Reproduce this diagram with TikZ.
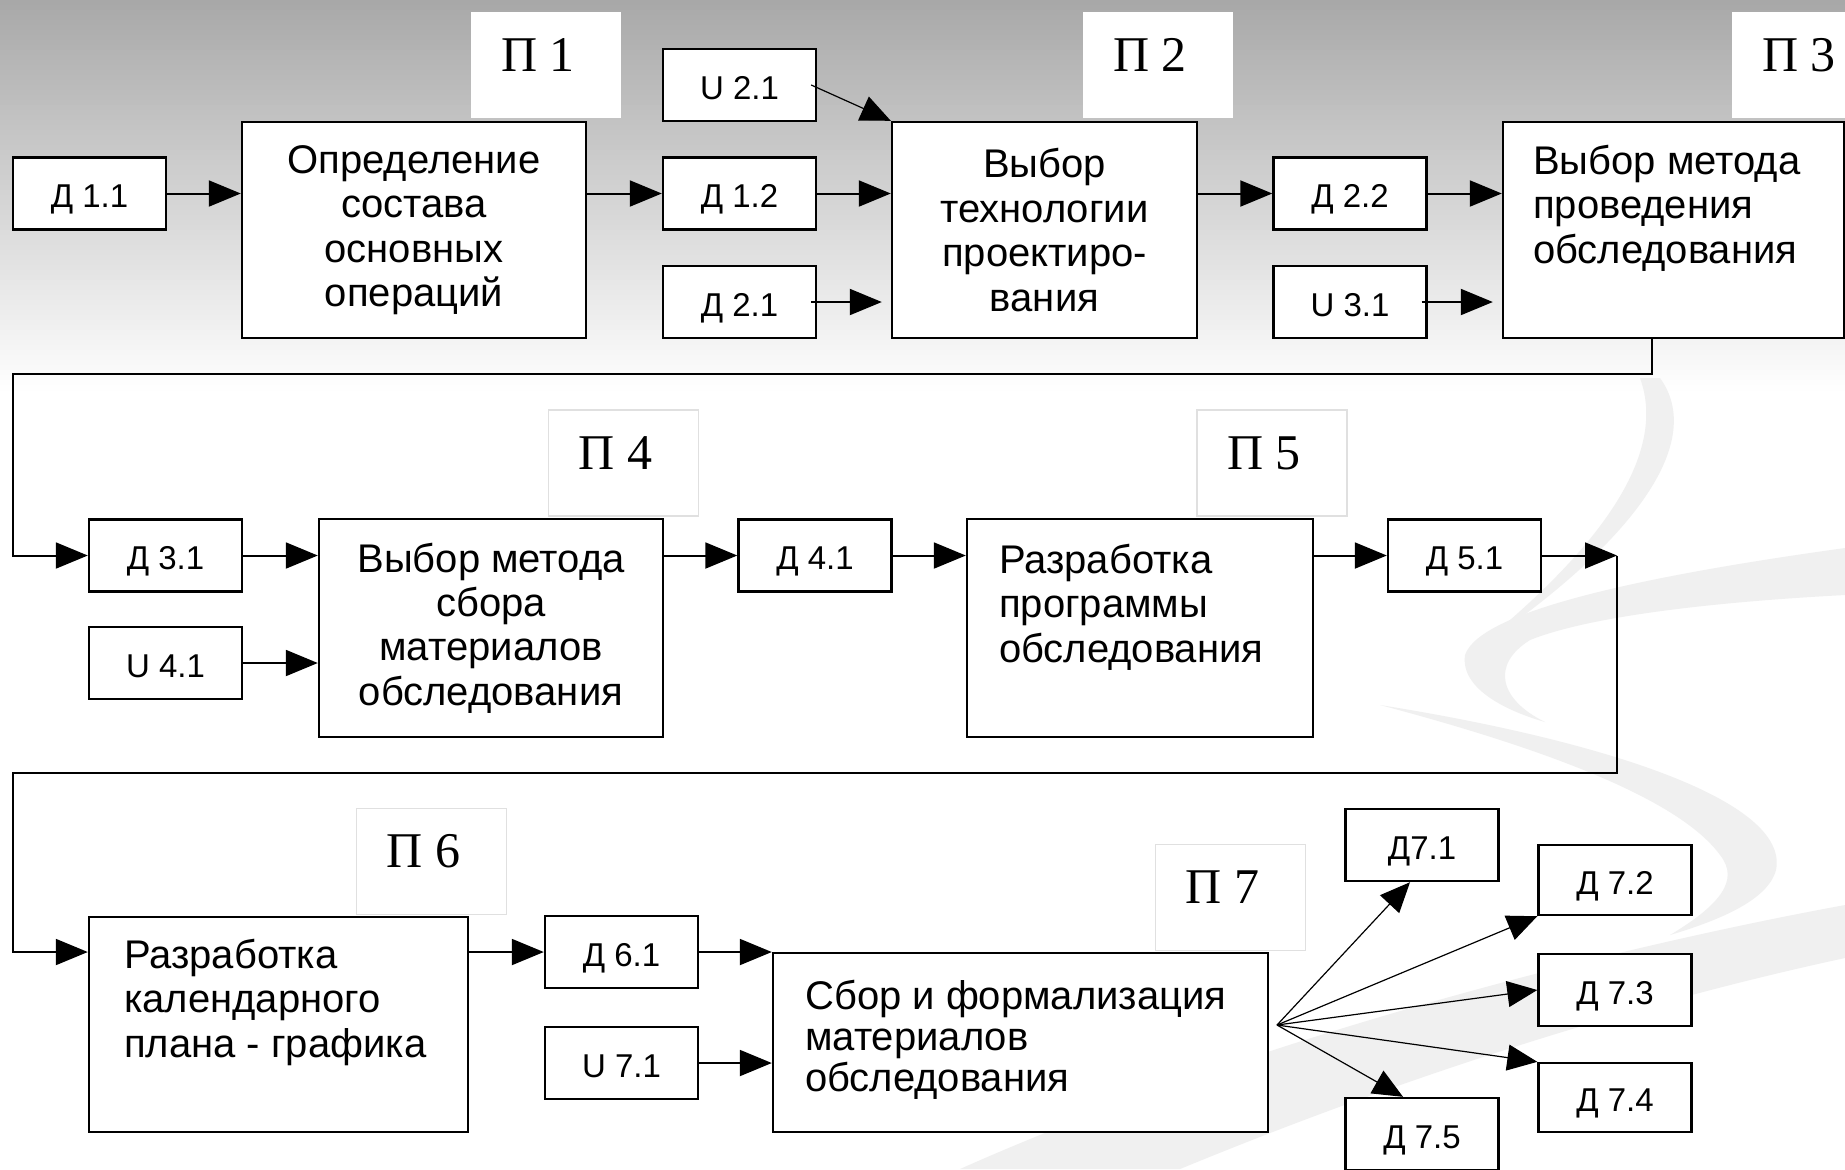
\documentclass[tikz,border=0pt]{standalone}
\usepackage{fontspec}
\setmainfont{Liberation Sans}
\newfontfamily\pfont{Liberation Serif}
\usetikzlibrary{arrows.meta}
\begin{document}
\begin{tikzpicture}[x=0.5pt,y=-0.5pt,
  box/.style={draw=black, line width=1.2pt, fill=white, inner sep=0pt},
  sbox/.style={box, minimum width=76.5pt, minimum height=36pt, text height=14pt, text depth=0pt, font=\fontsize{16.5}{19}\selectfont},
  bbox/.style={box, align=center, font=\fontsize{20}{22.2}\selectfont},
  ltext/.style={align=left, inner sep=0pt, anchor=north west, font=\fontsize{20}{22.2}\selectfont},
  pbox/.style={fill=white, inner sep=0pt, minimum width=75pt, minimum height=53pt},
  pboxb/.style={pbox, draw=black!12, line width=0.6pt},
  ptext/.style={inner sep=0pt, font=\pfont\fontsize{25}{28}\selectfont},
  arr/.style={line width=1pt, -{Triangle[length=16pt,width=13pt]}},
  fanarr/.style={line width=0.6pt, -{Triangle[length=15pt,width=13pt]}},
  sw/.style={fill=black!6}
]
\useasboundingbox (0,0) rectangle (1845,1169);
\clip (0,0) rectangle (1845,1169);
\fill[white] (0,0) rectangle (1845,1169);
\foreach \i in {0,...,77} {
  \pgfmathsetmacro\p{34*(1-\i/78)}
  \fill[black!\p] (0,\i*5) rectangle (1845,\i*5+5.5);
}
% background swooshes
\fill[sw] (1660,378) .. controls (1705,440) and (1640,540) .. (1468,655) .. controls (1600,550) and (1668,455) .. (1640,378) -- cycle;
\fill[sw] (1845,548) .. controls (1650,575) and (1480,610) .. (1465,655) .. controls (1460,690) and (1510,712) .. (1545,722) .. controls (1500,700) and (1490,665) .. (1530,640) .. controls (1600,612) and (1750,600) .. (1845,595) -- cycle;
\fill[sw] (1380,705) .. controls (1600,740) and (1790,800) .. (1776,870) .. controls (1768,900) and (1720,920) .. (1670,935) .. controls (1720,905) and (1740,880) .. (1720,855) .. controls (1680,800) and (1550,750) .. (1380,705) -- cycle;
\fill[sw] (1845,905) .. controls (1600,950) and (1250,1040) .. (960,1169) -- (1180,1169) .. controls (1420,1070) and (1650,1000) .. (1845,958) -- cycle;

% label boxes
\node[pbox] (p1) at (546,65) {};
\node[ptext] (p1t) at ([xshift=-4pt,yshift=5pt]p1.center) {П 1};
\node[pbox] (p2) at (1158,65) {};
\node[ptext] (p2t) at ([xshift=-4pt,yshift=5pt]p2.center) {П 2};
\node[pbox] (p3) at (1807,65) {};
\node[ptext] (p3t) at ([xshift=-4pt,yshift=5pt]p3.center) {П 3};
\node[pboxb] (p4) at (623.5,463) {};
\node[ptext] (p4t) at ([xshift=-4pt,yshift=5pt]p4.center) {П 4};
\node[pboxb] (p5) at (1272,463) {};
\node[ptext] (p5t) at ([xshift=-4pt,yshift=5pt]p5.center) {П 5};
\node[pboxb] (p6) at (431.5,861.5) {};
\node[ptext] (p6t) at ([xshift=-4pt,yshift=5pt]p6.center) {П 6};
\node[pboxb] (p7) at (1230.5,897.5) {};
\node[ptext] (p7t) at ([xshift=-4pt,yshift=5pt]p7.center) {П 7};

% row 1
\node[sbox] (d11) at (89.5,193.5) {Д 1.1};
\node[bbox, minimum width=172pt, minimum height=108pt] (b1) at (414,230) {Определение\\состава\\основных\\операций};
\node[sbox] (u21) at (739.5,85) {U 2.1};
\node[sbox] (d12) at (739.5,193.5) {Д 1.2};
\node[sbox] (d21) at (739.5,302) {Д 2.1};
\node[bbox, minimum width=152.5pt, minimum height=108pt] (b2) at (1044.5,230) {Выбор\\технологии\\проектиро-\\вания};
\node[sbox] (d22) at (1350,193.5) {Д 2.2};
\node[sbox] (u31) at (1350,302) {U 3.1};
\node[box, minimum width=170.5pt, minimum height=108pt] (b3) at (1673.5,230) {};
\node[ltext] (b3t) at ([xshift=15.5pt,yshift=-12pt]b3.north west) {Выбор метода\\проведения\\обследования};

% row 2
\node[sbox] (d31) at (165.5,555.5) {Д 3.1};
\node[sbox] (u41) at (165.5,663) {U 4.1};
\node[bbox, minimum width=172pt, minimum height=109pt] (b4) at (491,628) {Выбор метода\\сбора\\материалов\\обследования};
\node[sbox] (d41) at (815,555.5) {Д 4.1};
\node[box, minimum width=173pt, minimum height=109pt] (b5) at (1140,628) {};
\node[ltext] (b5t) at ([xshift=16.5pt,yshift=-13pt]b5.north west) {Разработка\\программы\\обследования};
\node[sbox] (d51) at (1464.5,555.5) {Д 5.1};

% row 3
\node[box, minimum width=189.5pt, minimum height=107.5pt] (b6) at (278.5,1024.5) {};
\node[ltext] (b6t) at ([xshift=18pt,yshift=-11.5pt]b6.north west) {Разработка\\календарного\\плана - графика};
\node[sbox] (d61) at (621.5,952) {Д 6.1};
\node[sbox] (u71) at (621.5,1063) {U 7.1};
\node[box, minimum width=247.5pt, minimum height=89.5pt] (b7) at (1020.5,1042.5) {};
\node[ltext, font=\fontsize{20}{20.5}\selectfont] (b7t) at ([xshift=16.5pt,yshift=-14pt]b7.north west) {Сбор и формализация\\материалов\\обследования};
\node[sbox] (d71) at (1422,845) {Д7.1};
\node[sbox, minimum height=35pt] (d72) at (1615,880) {Д 7.2};
\node[sbox] (d73) at (1615,990) {Д 7.3};
\node[sbox, minimum height=34.5pt] (d74) at (1615,1097.5) {Д 7.4};
\node[sbox] (d75) at (1422,1134) {Д 7.5};

% connector points
\coordinate (c1) at (1652,374);
\coordinate (c2) at (13,374);
\coordinate (c3) at (1617,555.5);
\coordinate (c4) at (1617,773);
\coordinate (c5) at (13,773);
\coordinate (fan) at (1277,1025);

% row 1 connectors
\draw[arr] (d11.east) -- (d11.east -| b1.west);
\draw[arr] (d12.west -| b1.east) -- (d12.west);
\draw[arr] (d12.east) -- (d12.east -| b2.west);
\draw[arr, shorten >=4.5pt, shorten <=-3pt] (d21.east) -- (d21.east -| b2.west);
\draw[fanarr] ([xshift=-3pt]u21.east) -- (b2.north west);
\draw[arr] (d22.west -| b2.east) -- (d22.west);
\draw[arr] (d22.east) -- (d22.east -| b3.west);
\draw[arr, shorten >=4.5pt, shorten <=-3pt] (u31.east) -- (u31.east -| b3.west);
\draw[arr] (b3.south -| c1) -- (c1) -- (c2) |- (d31.west);

% row 2 connectors
\draw[arr] (d31.east) -- (d31.east -| b4.west);
\draw[arr] (u41.east) -- (u41.east -| b4.west);
\draw[arr] (d41.west -| b4.east) -- (d41.west);
\draw[arr] (d41.east) -- (d41.east -| b5.west);
\draw[arr] (d51.west -| b5.east) -- (d51.west);
\draw[arr] (d51.east) -- (c3);
\draw[arr] (c3) -- (c4) -- (c5) |- (d61.west -| b6.west);

% row 3 connectors
\draw[arr] (d61.west -| b6.east) -- (d61.west);
\draw[arr] (d61.east) -- (d61.east -| b7.west);
\draw[arr] (u71.east) -- (u71.east -| b7.west);
\draw[fanarr] (fan) -- ([xshift=-6pt]d71.south);
\draw[fanarr] (fan) -- (d72.south west);
\draw[fanarr] (fan) -- (d73.west);
\draw[fanarr] (fan) -- (d74.north west);
\draw[fanarr] (fan) -- ([xshift=-9.5pt]d75.north);
\end{tikzpicture}
\end{document}
